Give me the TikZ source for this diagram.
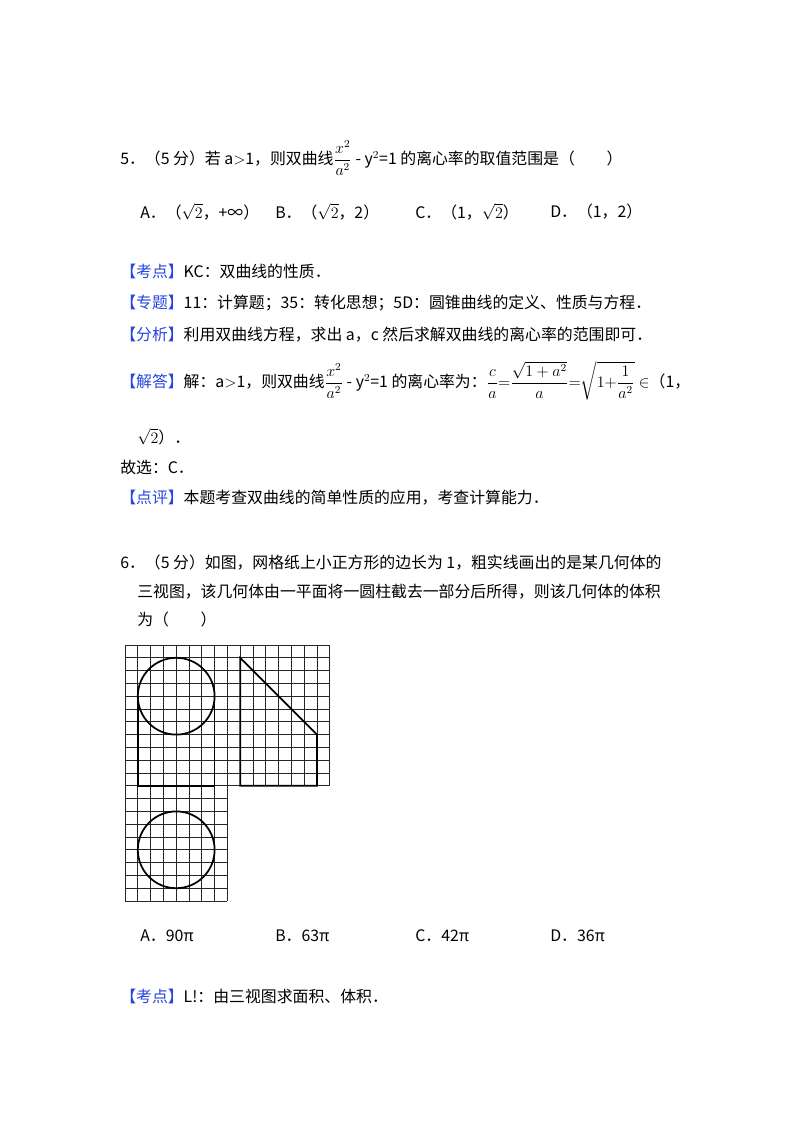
\documentclass[tikz,border=0pt]{standalone}
\usepackage{fontspec}
\setmainfont{Noto Sans CJK SC}
\usepackage{amsmath}
\definecolor{lab}{RGB}{40,70,220}
\newcommand{\tg}[1]{{\color{lab}【#1】}}
\begin{document}
\begin{tikzpicture}[x=0.75pt,y=-0.75pt,
  txt/.style={anchor=west,inner sep=0pt,font=\fontsize{11.9pt}{13pt}\selectfont},
  gridl/.style={line width=0.7pt,black!85},
  thick3/.style={line width=1.3pt}]
\useasboundingbox (0,0) rectangle (800,1132);
\node[txt] (q5) at (120,158) {5．（5 分）若 a$>$1，则双曲线$\dfrac{x^2}{a^2}$ - y$^2$=1 的离心率的取值范围是（\quad\quad）};
\node[txt] (a5) at (140,212) {A．（$\sqrt{2}$，+∞）};
\node[txt] (b5) at (275,212) {B．（$\sqrt{2}$，2）};
\node[txt] (c5) at (415,212) {C．（1，$\sqrt{2}$）};
\node[txt] (d5) at (550,212) {D．（1，2）};
\node[txt] (k5) at (120,271) {\tg{考点}KC：双曲线的性质．};
\node[txt] (z5) at (120,303) {\tg{专题}11：计算题；35：转化思想；5D：圆锥曲线的定义、性质与方程．};
\node[txt] (f5) at (120,335) {\tg{分析}利用双曲线方程，求出 a，c 然后求解双曲线的离心率的范围即可．};
\node[txt] (j5) at (120,381) {\tg{解答}解：a$>$1，则双曲线$\dfrac{x^2}{a^2}$ - y$^2$=1 的离心率为：$\dfrac{c}{a}{=}\dfrac{\sqrt{1+a^2}}{a}{=}\sqrt{1{+}\dfrac{1}{a^2}}\in$（1，};
\node[txt] (j5b) at (137,437) {$\sqrt{2}$）．};
\node[txt] (g5) at (120,467) {故选：C．};
\node[txt] (p5) at (120,498) {\tg{点评}本题考查双曲线的简单性质的应用，考查计算能力．};
\node[txt] (q6) at (120,563) {6．（5 分）如图，网格纸上小正方形的边长为 1，粗实线画出的是某几何体的};
\node[txt] (q6b) at (137,592) {三视图，该几何体由一平面将一圆柱截去一部分后所得，则该几何体的体积};
\node[txt] (q6c) at (137,619) {为（\quad\quad）};
\begin{scope}[shift={(125,645)},x=9.6pt,y=-9.6pt]
  \foreach \i in {0,...,16} \draw[gridl] (\i,0) -- (\i,11);
  \foreach \j in {0,...,11} \draw[gridl] (0,\j) -- (16,\j);
  \foreach \i in {0,...,8} \draw[gridl] (\i,11) -- (\i,20);
  \foreach \j in {12,...,20} \draw[gridl] (0,\j) -- (8,\j);
  \draw[thick3] (4,4) circle (3);
  \draw[thick3] (1,4) -- (1,11) -- (7,11) -- (7,4);
  \draw[thick3] (9,1) -- (15,7) -- (15,11) -- (9,11) -- cycle;
  \draw[thick3] (4,16) circle (3);
\end{scope}
\node[txt] (a6) at (140,936) {A．90π};
\node[txt] (b6) at (275,936) {B．63π};
\node[txt] (c6) at (415,936) {C．42π};
\node[txt] (d6) at (550,936) {D．36π};
\node[txt] (k6) at (120,996) {\tg{考点}L!：由三视图求面积、体积．};
\end{tikzpicture}
\end{document}
